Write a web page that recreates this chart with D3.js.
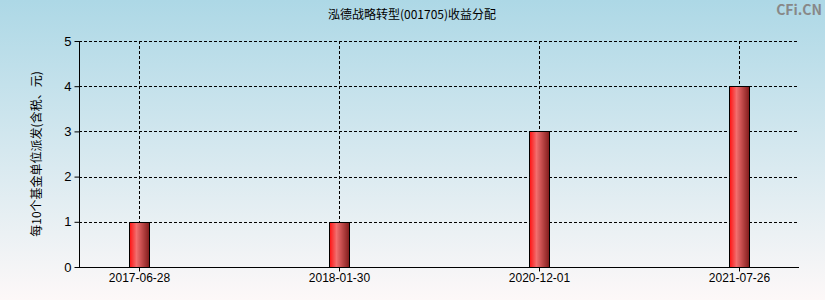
<!DOCTYPE html>
<html><head><meta charset="utf-8">
<script src="https://cdn.jsdelivr.net/npm/d3@7"></script>
<style>
html,body{margin:0;padding:0;}
svg{display:block;}
text{font-family:"Noto Sans CJK SC","Liberation Sans",sans-serif;}
</style></head>
<body><svg id="c" width="825" height="300"></svg>
<script>
const categories = ["2017-06-28","2018-01-30","2020-12-01","2021-07-26"];
const values = [1, 1, 3, 4];
const yTicks = [0,1,2,3,4,5];
const title = "泓德战略转型(001705)收益分配";
const yTitle = "每10个基金单位派发(含税、元)";

(function(){
const svg = d3.select("#c");
const W = 825, H = 300;
const pL = 79, pR = 799, pT = 41, pB = 267;

const defs = svg.append("defs");
const bg = defs.append("linearGradient").attr("id","bg").attr("x1",0).attr("y1",0).attr("x2",0).attr("y2",1);
bg.append("stop").attr("offset","0%").attr("stop-color","#add8e6");
bg.append("stop").attr("offset","100%").attr("stop-color","#fdf8f8");
const bar = defs.append("linearGradient").attr("id","bar").attr("x1",0).attr("y1",0).attr("x2",1).attr("y2",0);
bar.append("stop").attr("offset","0%").attr("stop-color","#ff1010");
bar.append("stop").attr("offset","35%").attr("stop-color","#f26e6e");
bar.append("stop").attr("offset","100%").attr("stop-color","#7f1a1a");

svg.append("rect").attr("width",W).attr("height",H).attr("fill","url(#bg)");

const x = d3.scalePoint().domain(categories).range([pL,pR]).padding(0.3);
const y = d3.scaleLinear().domain([0,5]).range([pB,pT]);

// grid
svg.append("g").selectAll("line").data(yTicks.filter(d=>d>0)).join("line")
  .attr("x1",pL).attr("x2",pR-1).attr("y1",d=>Math.round(y(d))+0.5).attr("y2",d=>Math.round(y(d))+0.5)
  .attr("stroke","#000").attr("stroke-dasharray","3,2").attr("stroke-width",1);
svg.append("g").selectAll("line").data(categories).join("line")
  .attr("x1",d=>Math.round(x(d))+0.5).attr("x2",d=>Math.round(x(d))+0.5).attr("y1",pT).attr("y2",pB)
  .attr("stroke","#000").attr("stroke-dasharray","3,2").attr("stroke-width",1);

// bars
const bw = 20;
svg.append("g").selectAll("rect").data(values).join("rect")
  .attr("x",(d,i)=>Math.round(x(categories[i])) - bw/2 + 0.5)
  .attr("y",d=>Math.round(y(d))+0.5)
  .attr("width",bw)
  .attr("height",d=>Math.round(y(0))-Math.round(y(d)))
  .attr("fill","url(#bar)").attr("stroke","#000").attr("stroke-width",1);

// axes
const ya = svg.append("g").attr("transform",`translate(${pL+0.5},0)`)
  .call(d3.axisLeft(y).tickValues(yTicks).tickFormat(d3.format("d")).tickSize(5).tickPadding(3));
ya.select(".domain").attr("d",`M0,${pT}V${pB+0.5}`);
const xa = svg.append("g").attr("transform",`translate(0,${pB+0.5})`)
  .call(d3.axisBottom(x).tickSize(4).tickPadding(2));
xa.select(".domain").attr("d",`M${pL},0H${pR}`);
svg.selectAll(".tick text").attr("font-size",12).attr("fill","#000")
  .style("font-family","'Liberation Sans',sans-serif");
ya.selectAll(".tick text").attr("font-size",13);

// titles
svg.append("text").attr("x",412).attr("y",19).attr("text-anchor","middle")
  .attr("font-size",12).attr("fill","#000").text(title);
svg.append("text").attr("transform",`translate(41,${(pT+pB)/2}) rotate(-90)`)
  .attr("text-anchor","middle").attr("font-size",12).attr("fill","#000").text(yTitle);
svg.append("text").attr("x",822).attr("y",15).attr("text-anchor","end")
  .attr("font-size",14).attr("font-weight","bold").attr("fill","#888").text("CFi.CN");
})();
</script></body></html>
